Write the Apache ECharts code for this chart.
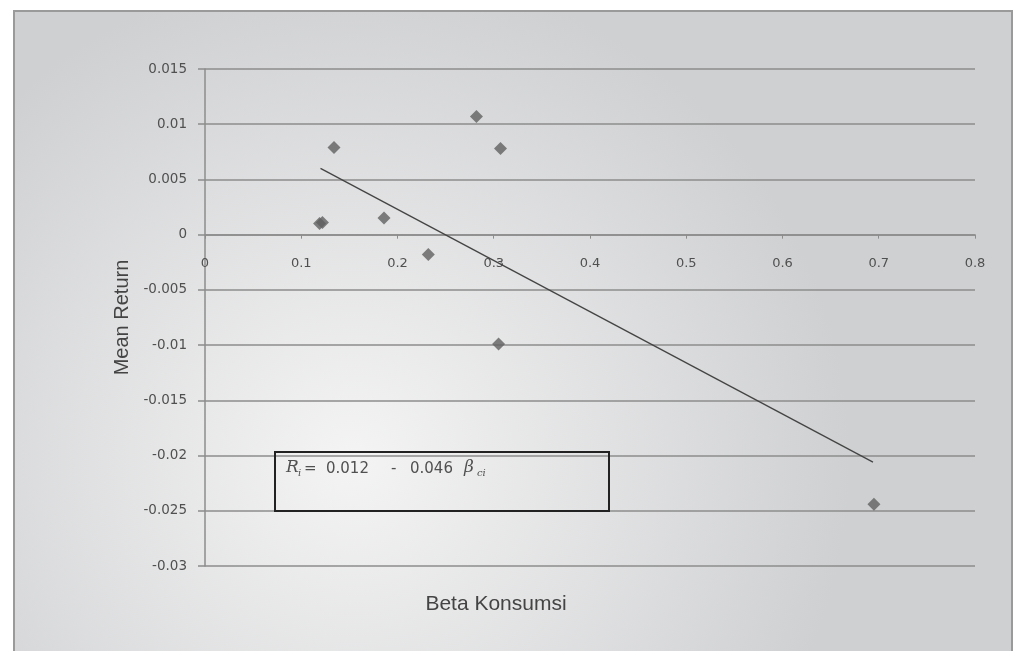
<!DOCTYPE html>
<html>
<head>
<meta charset="utf-8">
<script src="https://cdn.jsdelivr.net/npm/echarts@6/dist/echarts.min.js"></script>
<style>
html,body{margin:0;padding:0;background:#fff;}
#chart{width:1014px;height:651px;}
</style>
</head>
<body>
<div id="chart"></div>
<script>
// Data
var betaKonsumsi = [0.119, 0.122, 0.134, 0.186, 0.232, 0.282, 0.307, 0.305, 0.695];
var meanReturn   = [0.0010, 0.0011, 0.0079, 0.0015, -0.0018, 0.0107, 0.0078, -0.0099, -0.0244];
var trendBeta    = [0.120, 0.694];
var trendReturn  = [0.0060, -0.0206];
var xTicks = [0, 0.1, 0.2, 0.3, 0.4, 0.5, 0.6, 0.7, 0.8];
var yTicks = [0.015, 0.01, 0.005, 0, -0.005, -0.01, -0.015, -0.02, -0.025, -0.03];
var xTitle = 'Beta Konsumsi';
var yTitle = 'Mean Return';

var chart = echarts.init(document.getElementById('chart'), null, {renderer: 'canvas'});
var pts = betaKonsumsi.map(function (b, i) { return [b, meanReturn[i]]; });
var trend = trendBeta.map(function (b, i) { return [b, trendReturn[i]]; });
var fmt = function (v) { return String(parseFloat(Number(v).toFixed(3))); };

var gridH = 497;
var yMin = yTicks[yTicks.length - 1], yMax = yTicks[0];
// shift the x axis up so it crosses the y axis at zero
var xAxisOffset = -((0 - yMin) / (yMax - yMin)) * gridH;

var eqStyle = {fontFamily: 'DejaVu Sans', fontSize: 15, fill: '#505050'};
var eqItal = {fontFamily: 'DejaVu Serif', fontStyle: 'italic', fontSize: 17, fill: '#505050'};
var eqSub = {fontFamily: 'DejaVu Serif', fontStyle: 'italic', fontSize: 10, fill: '#505050'};
function t(x, y, text, st) {
  return {type: 'text', z: 11, silent: true, x: x, y: y,
    style: Object.assign({text: text, align: 'left', verticalAlign: 'top'}, st)};
}

chart.setOption({
  animation: false,
  backgroundColor: '#ffffff',
  grid: {left: 205, top: 69, width: 770, height: gridH, containLabel: false},
  xAxis: {
    type: 'value', min: xTicks[0], max: xTicks[xTicks.length - 1], interval: 0.1,
    position: 'bottom', offset: xAxisOffset,
    axisLine: {onZero: false, lineStyle: {color: '#8c8c8c', width: 1.5}},
    axisTick: {show: true, inside: false, length: 4, lineStyle: {color: '#8c8c8c'}},
    axisLabel: {margin: 22, color: '#505050', fontFamily: 'DejaVu Sans', fontSize: 13, formatter: fmt},
    splitLine: {show: false}
  },
  yAxis: {
    type: 'value', min: yMin, max: yMax, interval: 0.005,
    name: yTitle, nameLocation: 'middle', nameGap: 70, nameRotate: 90,
    nameTextStyle: {color: '#444', fontFamily: 'Liberation Sans', fontSize: 20},
    axisLine: {show: true, onZero: false, lineStyle: {color: '#8c8c8c', width: 1.5}},
    axisTick: {show: true, length: 7, lineStyle: {color: '#8c8c8c', width: 1.5}},
    axisLabel: {margin: 18, color: '#505050', fontFamily: 'DejaVu Sans', fontSize: 13.5, formatter: fmt},
    splitLine: {show: true, lineStyle: {color: '#8c8c8c', width: 1.5}}
  },
  graphic: [
    {type: 'rect', z: -10, silent: true,
      shape: {x: 14, y: 11, width: 998, height: 660},
      style: {
        fill: new echarts.graphic.RadialGradient(0.34, 0.68, 0.75, [
          {offset: 0, color: '#f4f4f4'},
          {offset: 1, color: '#cfd0d2'}
        ]),
        stroke: '#9a9a9a', lineWidth: 2
      }},
    {type: 'rect', z: 10, silent: true,
      shape: {x: 275, y: 452, width: 334, height: 59},
      style: {fill: 'rgba(0,0,0,0)', stroke: '#222', lineWidth: 2}},
    t(286, 459, 'R', eqItal),
    t(298, 468, 'i', eqSub),
    t(304, 462, '=', eqStyle),
    t(326, 462, '0.012', eqStyle),
    t(391, 462, '-', eqStyle),
    t(410, 462, '0.046', eqStyle),
    t(464, 459, 'β', eqItal),
    t(477, 468, 'ci', eqSub),
    {type: 'text', z: 11, silent: true, x: 496, y: 594,
      style: {text: xTitle, align: 'center', verticalAlign: 'top',
        fontFamily: 'Liberation Sans', fontSize: 21, fill: '#444'}}
  ],
  series: [
    {type: 'line', data: trend, showSymbol: false, symbol: 'none',
      lineStyle: {color: '#444', width: 1.3}, z: 3},
    {type: 'scatter', data: pts, symbol: 'diamond', symbolSize: 13,
      itemStyle: {color: '#606060'}, z: 4}
  ]
});
</script>
</body>
</html>
